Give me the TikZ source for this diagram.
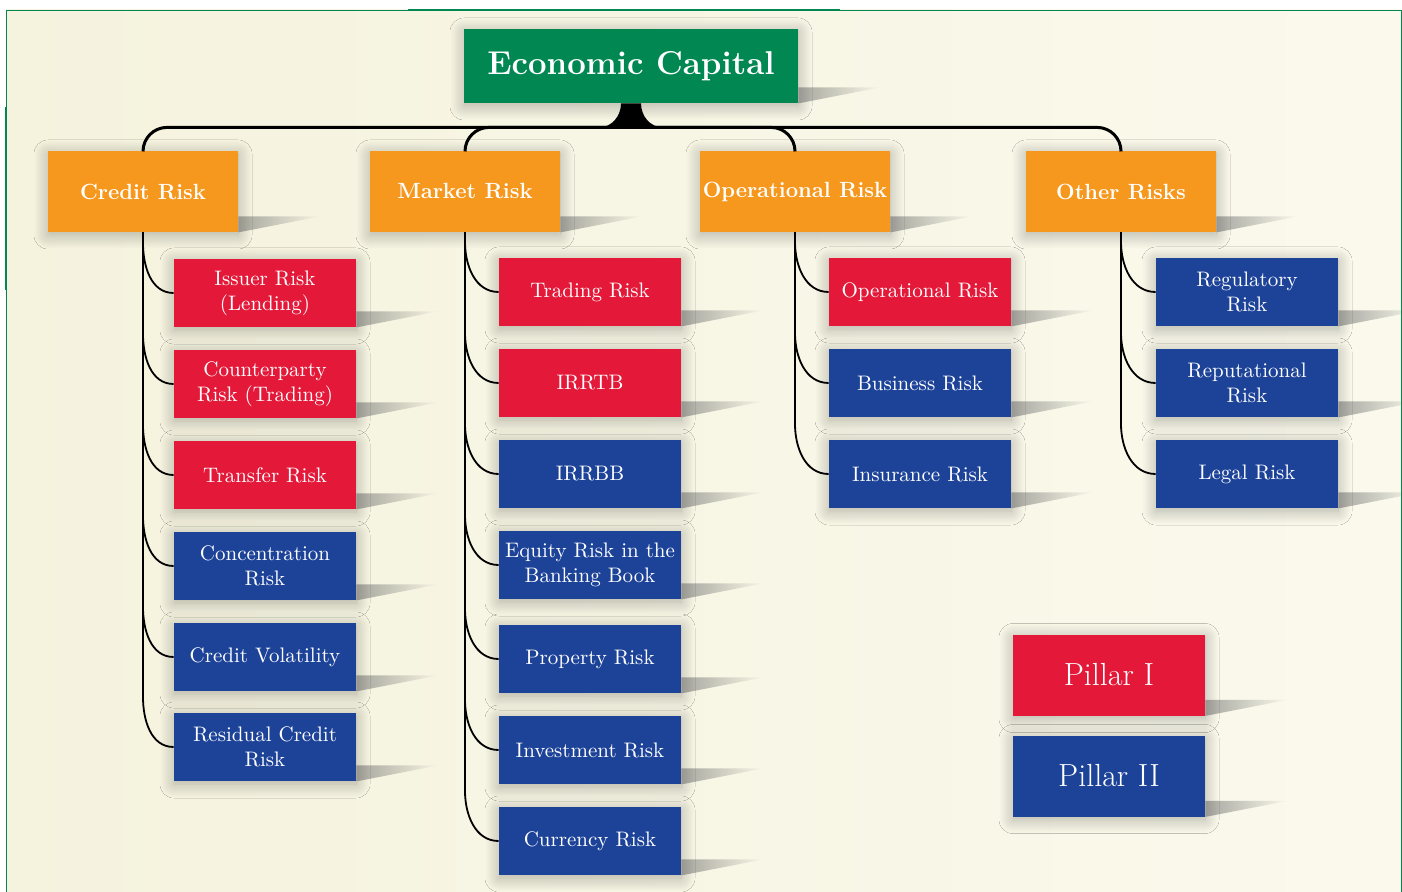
\documentclass[tikz,border=0pt]{standalone}
\usepackage{tikz}
\usetikzlibrary{positioning,calc,shadows.blur,fadings}
\definecolor{capgreen}{RGB}{0,135,82}
\definecolor{riskorange}{RGB}{247,152,30}
\definecolor{pillarred}{RGB}{228,25,57}
\definecolor{pillarblue}{RGB}{29,67,153}
\definecolor{paperA}{RGB}{245,243,222}
\definecolor{paperB}{RGB}{241,238,208}
\definecolor{paperC}{RGB}{250,249,236}

\begin{document}
\begin{tikzpicture}[x=0.5pt, y=0.5pt,
    box/.style={rectangle, text=white, align=center, inner sep=0pt,
      blur shadow={shadow xshift=0pt, shadow yshift=-1.5pt, shadow blur radius=7pt,
        shadow blur steps=16, shadow opacity=30}},
    capbox/.style={box, fill=capgreen, minimum width=167pt, minimum height=37pt,
      font=\fontsize{16.5}{19}\selectfont\bfseries},
    headbox/.style={box, fill=riskorange, minimum width=95pt, minimum height=40.5pt,
      font=\fontsize{11}{13}\selectfont\bfseries},
    leafbox/.style={box, minimum width=91pt, minimum height=34pt,
      font=\fontsize{10.5}{12.5}\selectfont},
    legendbox/.style={box, minimum width=96pt, minimum height=40.5pt,
      font=\fontsize{16}{19}\selectfont},
    pone/.style={fill=pillarred},
    ptwo/.style={fill=pillarblue},
    bus/.style={line width=1.5pt, rounded corners=12pt},
    trunk/.style={line width=1.4pt},
    twig/.style={line width=0.9pt},
    peel/.style={fill=black!60, path fading=east, fill opacity=0.55}]

    \useasboundingbox (0,0) rectangle (1402,-892);

    % Paper and frame
    \shade[left color=paperA, middle color=paperB, right color=paperC] (6,-10) rectangle (1401,-892);
    \draw[capgreen, line width=0.4pt] (6,-892) -- (6,-10) -- (1401,-10) -- (1401,-892);
    \draw[capgreen, line width=1.2pt] (408,-10) -- (840,-10);
    \draw[capgreen, line width=1.2pt] (6,-107) -- (6,-290);

    % Top
    \node[capbox] (ec) at (631,-66) {Economic Capital};
    \coordinate (hub) at ($(ec.south)+(0,-24)$);

    % Risk types
    \node[headbox] (cr) at (143,-191.5) {Credit Risk};
    \node[headbox] (mr) at (465,-191.5) {Market Risk};
    \node[headbox] (op) at (795,-191.5) {Operational Risk};
    \node[headbox] (ot) at (1121,-191.5) {Other Risks};

    % Credit risk
    \node[leafbox, pone] (cr1) at (265,-293) {Issuer Risk\\(Lending)};
    \node[leafbox, pone] (cr2) at (265,-384) {Counterparty\\Risk (Trading)};
    \node[leafbox, pone] (cr3) at (265,-475) {Transfer Risk};
    \node[leafbox, ptwo] (cr4) at (265,-566) {Concentration\\Risk};
    \node[leafbox, ptwo] (cr5) at (265,-657) {Credit Volatility};
    \node[leafbox, ptwo] (cr6) at (265,-747) {Residual Credit\\Risk};

    % Market risk
    \node[leafbox, pone] (mr1) at (590,-292) {Trading Risk};
    \node[leafbox, pone] (mr2) at (590,-383) {IRRTB};
    \node[leafbox, ptwo] (mr3) at (590,-474) {IRRBB};
    \node[leafbox, ptwo] (mr4) at (590,-565) {Equity Risk in the\\Banking Book};
    \node[leafbox, ptwo] (mr5) at (590,-659) {Property Risk};
    \node[leafbox, ptwo] (mr6) at (590,-750) {Investment Risk};
    \node[leafbox, ptwo] (mr7) at (590,-841) {Currency Risk};

    % Operational risk
    \node[leafbox, pone] (op1) at (920,-292) {Operational Risk};
    \node[leafbox, ptwo] (op2) at (920,-383) {Business Risk};
    \node[leafbox, ptwo] (op3) at (920,-474) {Insurance Risk};

    % Other risks
    \node[leafbox, ptwo] (ot1) at (1247,-292) {Regulatory\\Risk};
    \node[leafbox, ptwo] (ot2) at (1247,-383) {Reputational\\Risk};
    \node[leafbox, ptwo] (ot3) at (1247,-474) {Legal Risk};

    % Legend
    \node[legendbox, pone] (p1) at (1109,-675) {Pillar I};
    \node[legendbox, ptwo] (p2) at (1109,-776) {Pillar II};

    % Folded shadows
    \foreach \n in {ec,cr,mr,op,ot,cr1,cr2,cr3,cr4,cr5,cr6,mr1,mr2,mr3,mr4,mr5,mr6,mr7,op1,op2,op3,ot1,ot2,ot3,p1,p2}
        \fill[peel] (\n.south east) -- ++(0,8pt) -- ++(41pt,0) -- cycle;

    % Bus
    \fill ([xshift=-5pt]ec.south) to[out=-90,in=0] ([xshift=-16pt]hub) -- ([xshift=16pt]hub)
        to[out=180,in=-90] ([xshift=5pt]ec.south) -- cycle;
    \draw[bus] (cr.north) |- (hub) -| (ot.north);
    \draw[bus] (mr.north) |- (hub);
    \draw[bus] (op.north) |- (hub);

    % Trunks
    \draw[trunk] (cr.south) -- ($(cr.south |- cr6.west)+(0,25pt)$);
    \draw[trunk] (mr.south) -- ($(mr.south |- mr7.west)+(0,25pt)$);
    \draw[trunk] (op.south) -- ($(op.south |- op3.west)+(0,25pt)$);
    \draw[trunk] (ot.south) -- ($(ot.south |- ot3.west)+(0,25pt)$);

    % Branches
    \foreach \p/\c in {cr/cr1,cr/cr2,cr/cr3,cr/cr4,cr/cr5,cr/cr6,
                       mr/mr1,mr/mr2,mr/mr3,mr/mr4,mr/mr5,mr/mr6,mr/mr7,
                       op/op1,op/op2,op/op3,ot/ot1,ot/ot2,ot/ot3}
        \draw[twig] ($(\p.south |- \c.west)+(0,25pt)$) to[out=-90,in=180] (\c.west);
\end{tikzpicture}
\end{document}
